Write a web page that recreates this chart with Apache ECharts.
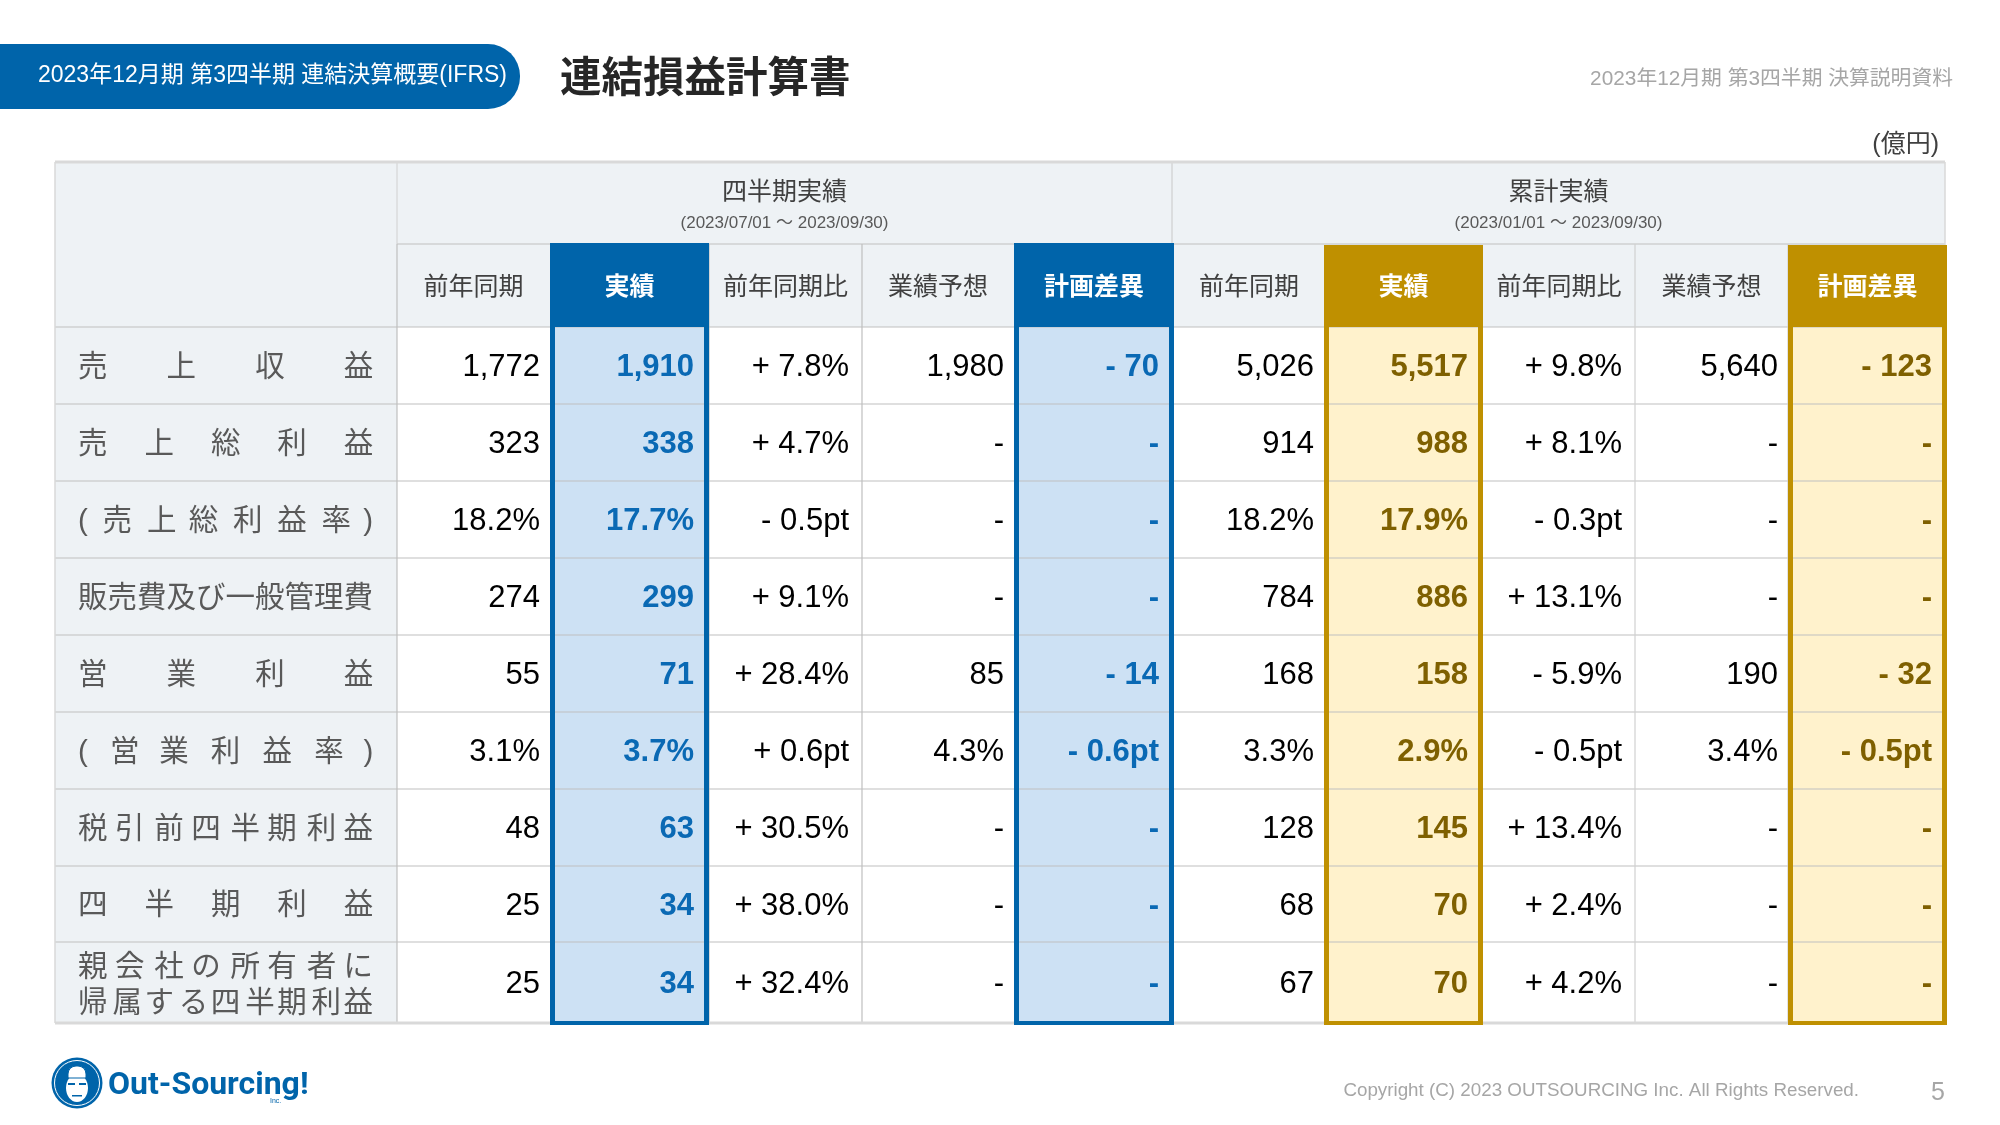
<!DOCTYPE html>
<html>
<head>
<meta charset="utf-8">
<title>連結損益計算書</title>
<script src="https://cdn.jsdelivr.net/npm/echarts@6/dist/echarts.min.js"></script>
<style>
  html, body { margin: 0; padding: 0; background: #fff; }
  #chart { width: 2000px; height: 1125px; }
</style>
</head>
<body>
<div id="chart"></div>
<script>
// Table values, one list per column, as printed on the slide.
const rowLabels = ['売上収益', '売上総利益', '(売上総利益率)', '販売費及び一般管理費', '営業利益', '(営業利益率)', '税引前四半期利益', '四半期利益', '親会社の所有者に\n帰属する四半期利益'];
const groupHeads = ['四半期実績', '累計実績'];
const groupPeriods = ['(2023/07/01 ～ 2023/09/30)', '(2023/01/01 ～ 2023/09/30)'];
const columnHeads = ['前年同期', '実績', '前年同期比', '業績予想', '計画差異'];

const quarterPrev = ['1,772', '323', '18.2%', '274', '55', '3.1%', '48', '25', '25'];
const quarterActual = ['1,910', '338', '17.7%', '299', '71', '3.7%', '63', '34', '34'];
const quarterYoY = ['+ 7.8%', '+ 4.7%', '- 0.5pt', '+ 9.1%', '+ 28.4%', '+ 0.6pt', '+ 30.5%', '+ 38.0%', '+ 32.4%'];
const quarterPlan = ['1,980', '-', '-', '-', '85', '4.3%', '-', '-', '-'];
const quarterDiff = ['- 70', '-', '-', '-', '- 14', '- 0.6pt', '-', '-', '-'];

const totalPrev = ['5,026', '914', '18.2%', '784', '168', '3.3%', '128', '68', '67'];
const totalActual = ['5,517', '988', '17.9%', '886', '158', '2.9%', '145', '70', '70'];
const totalYoY = ['+ 9.8%', '+ 8.1%', '- 0.3pt', '+ 13.1%', '- 5.9%', '- 0.5pt', '+ 13.4%', '+ 2.4%', '+ 4.2%'];
const totalPlan = ['5,640', '-', '-', '-', '190', '3.4%', '-', '-', '-'];
const totalDiff = ['- 123', '-', '-', '-', '- 32', '- 0.5pt', '-', '-', '-'];

const valueColumns = [quarterPrev, quarterActual, quarterYoY, quarterPlan, quarterDiff, totalPrev, totalActual, totalYoY, totalPlan, totalDiff];

// Layout: the axes span the page 1:1, so these are pixel edges of the table grid.
const colEdges = [55, 397, 550, 709, 862, 1014, 1174, 1324, 1483, 1635, 1788, 1947];
const rowEdges = [327, 404, 481, 558, 635, 712, 789, 866, 942, 1023];
const TABLE_TOP = 162, GROUP_BOTTOM = 244, GROUP_SPLIT = 1172, TABLE_RIGHT = 1945;

const BLUE = '#0064aa', GOLD = '#bf9000';
const FONT = '"Liberation Sans", "Noto Sans CJK JP", sans-serif';
const LABEL_SIZE = 29.5, LABEL_LEFT = 78, LABEL_WIDTH = 296;
const HAIR = '\u200a';

// Highlighted columns (index into valueColumns): fill, border and text colours.
const highlights = {
  1: { fill: '#cde1f4', line: BLUE, text: '#0a69b4', top: 243 },
  4: { fill: '#cde1f4', line: BLUE, text: '#0a69b4', top: 243 },
  6: { fill: '#fff2cc', line: GOLD, text: '#7f6000', top: 245 },
  9: { fill: '#fff2cc', line: GOLD, text: '#7f6000', top: 245 },
};

const measureCtx = document.createElement('canvas').getContext('2d');
measureCtx.font = `${LABEL_SIZE}px ${FONT}`;

// Spread the characters over the label width with hair spaces, carrying the rounding
// error along so the last character still lands near the right edge.
function justify(line) {
  const chars = Array.from(line);
  const used = chars.reduce((sum, c) => sum + measureCtx.measureText(c).width, 0);
  const hairW = measureCtx.measureText(HAIR).width || LABEL_SIZE * 0.1;
  const gap = (LABEL_WIDTH - used) / (chars.length - 1) / hairW;
  let out = '', placed = 0;
  chars.forEach((c, i) => {
    out += c;
    if (i === chars.length - 1) return;
    const n = Math.max(0, Math.round(gap * (i + 1)) - placed);
    placed += n;
    out += HAIR.repeat(n);
  });
  return out;
}

// [x0, y0, x1, y1] in axis units → a rectangle shape in pixels.
function box(api, x0, y0, x1, y1) {
  const a = api.coord([x0, y0]);
  const b = api.coord([x1, y1]);
  return { x: a[0], y: a[1], width: b[0] - a[0], height: b[1] - a[1] };
}

function rect(api, edges, fill) {
  return { type: 'rect', shape: box(api, edges[0], edges[1], edges[2], edges[3]), style: { fill } };
}

function line(api, x0, y0, x1, y1, color, width) {
  const a = api.coord([x0, y0]);
  const b = api.coord([x1, y1]);
  return { type: 'line', shape: { x1: a[0], y1: a[1], x2: b[0], y2: b[1] }, style: { stroke: color, lineWidth: width } };
}

function text(api, x, y, str, opts) {
  const p = api.coord([x, y]);
  return {
    type: 'text',
    style: {
      x: p[0], y: p[1], text: str, fill: opts.color,
      font: `${opts.bold ? 'bold ' : ''}${opts.size}px ${FONT}`,
      align: opts.align || 'center', verticalAlign: 'middle',
      lineHeight: opts.lineHeight,
    },
  };
}

// Table body fills and rules, drawn once as a group.
function renderGrid(params, api) {
  const bottom = rowEdges[rowEdges.length - 1];
  const kids = [
    rect(api, [colEdges[0], TABLE_TOP, TABLE_RIGHT, rowEdges[0]], '#eef2f5'),
    rect(api, [colEdges[0], TABLE_TOP, colEdges[1], bottom], '#eef2f5'),
  ];
  Object.keys(highlights).forEach((k) => {
    const col = +k, h = highlights[k];
    kids.push(rect(api, [colEdges[col + 1], rowEdges[0], colEdges[col + 2], bottom], h.fill));
  });
  // row rules run across the highlighted fills
  rowEdges.slice(0, -1).forEach((y) => kids.push(line(api, colEdges[0], y, TABLE_RIGHT, y, '#bfbfbf', 1.2)));
  kids.push(line(api, colEdges[1], GROUP_BOTTOM, TABLE_RIGHT, GROUP_BOTTOM, '#bfbfbf', 1.2));
  kids.push(line(api, colEdges[1], GROUP_BOTTOM, colEdges[1], bottom, '#bfbfbf', 1.2));
  kids.push(line(api, colEdges[1], TABLE_TOP, colEdges[1], GROUP_BOTTOM, '#d0d0d0', 1));
  kids.push(line(api, GROUP_SPLIT, TABLE_TOP, GROUP_SPLIT, GROUP_BOTTOM, '#c8c8c8', 1));
  [3, 4, 9, 10].forEach((i) => {
    kids.push(line(api, colEdges[i], GROUP_BOTTOM, colEdges[i], bottom, i < 5 ? '#bfbfbf' : '#d0d0d0', 1.2));
  });
  // outer frame
  kids.push(line(api, colEdges[0], TABLE_TOP, TABLE_RIGHT, TABLE_TOP, '#d9d9d9', 3));
  kids.push(line(api, colEdges[0], bottom, TABLE_RIGHT, bottom, '#d9d9d9', 3));
  kids.push(line(api, colEdges[0], TABLE_TOP, colEdges[0], bottom, '#d9d9d9', 1.5));
  kids.push(line(api, TABLE_RIGHT, TABLE_TOP, TABLE_RIGHT, rowEdges[0], '#d9d9d9', 1.5));
  // highlighted column heads and borders on top of everything
  Object.keys(highlights).forEach((k) => {
    const col = +k, h = highlights[k];
    const x0 = colEdges[col + 1], x1 = colEdges[col + 2];
    kids.push(rect(api, [x0, h.top, x1, rowEdges[0]], h.line));
    kids.push(rect(api, [x0, rowEdges[0], x0 + 5, bottom + 2], h.line));
    kids.push(rect(api, [x1 - 5, rowEdges[0], x1, bottom + 2], h.line));
    kids.push(rect(api, [x0, bottom - 2, x1, bottom + 2], h.line));
  });
  return { type: 'group', children: kids };
}

// Right padding of a value inside its column, by column kind.
function valuePad(col) {
  if (highlights[col]) return 15;
  return col === 2 || col === 7 ? 13 : 10;
}

function renderCell(params, api) {
  const col = api.value(0), row = api.value(1);
  const h = highlights[col];
  const str = valueColumns[col][row];
  const y = (rowEdges[row] + rowEdges[row + 1]) / 2 + 2;
  return text(api, colEdges[col + 2] - valuePad(col), y, str, {
    size: 31, bold: !!h, color: h ? h.text : '#000', align: 'right',
  });
}

function renderLabel(params, api) {
  const row = api.value(0);
  const str = rowLabels[row].split('\n').map(justify).join('\n');
  const y = (rowEdges[row] + rowEdges[row + 1]) / 2 + (str.includes('\n') ? 3 : 2);
  return text(api, LABEL_LEFT, y, str, { size: LABEL_SIZE, color: '#595959', align: 'left', lineHeight: 36 });
}

function renderHead(params, api) {
  const col = api.value(0);
  const str = columnHeads[col % 5];
  const h = highlights[col];
  const x = (colEdges[col + 1] + colEdges[col + 2]) / 2;
  return text(api, x, (GROUP_BOTTOM + rowEdges[0]) / 2 + 2.5, str, { size: 25, bold: !!h, color: h ? '#fff' : '#404040' });
}

function renderGroup(params, api) {
  const i = api.value(0);
  const x = i === 0 ? (colEdges[1] + GROUP_SPLIT) / 2 : (GROUP_SPLIT + TABLE_RIGHT) / 2;
  return {
    type: 'group',
    children: [
      text(api, x, 193.5, groupHeads[i], { size: 25, color: '#404040' }),
      text(api, x, 223, groupPeriods[i], { size: 17, color: '#595959' }),
    ],
  };
}

const cellData = [];
valueColumns.forEach((values, col) => values.forEach((v, row) => cellData.push([col, row])));

const customBase = { type: 'custom', coordinateSystem: 'cartesian2d', silent: true, clip: false };

// Slide furniture outside the table: badge, titles, footer and logo.
const graphic = [
  { type: 'rect', shape: { x: -40, y: 44, width: 560, height: 65, r: 32 }, style: { fill: BLUE } },
  { type: 'text', style: { x: 38, y: 76, text: '2023年12月期 第3四半期 連結決算概要(IFRS)', fill: '#fff', font: `23px ${FONT}`, verticalAlign: 'middle' } },
  { type: 'text', style: { x: 560, y: 81, text: '連結損益計算書', fill: '#262626', font: `bold 41.5px ${FONT}`, verticalAlign: 'middle' } },
  { type: 'text', style: { x: 1953, y: 79, text: '2023年12月期 第3四半期 決算説明資料', fill: '#a6a6a6', font: `20.8px ${FONT}`, align: 'right', verticalAlign: 'middle' } },
  { type: 'text', style: { x: 1939, y: 145, text: '(億円)', fill: '#404040', font: `25px ${FONT}`, align: 'right', verticalAlign: 'middle' } },
  { type: 'text', style: { x: 1859, y: 1091, text: 'Copyright (C) 2023 OUTSOURCING Inc. All Rights Reserved.', fill: '#a6a6a6', font: `18.8px ${FONT}`, align: 'right', verticalAlign: 'middle' } },
  { type: 'text', style: { x: 1945, y: 1093, text: '5', fill: '#a6a6a6', font: `25px ${FONT}`, align: 'right', verticalAlign: 'middle' } },
  // logo: round badge with a capped face
  { type: 'circle', shape: { cx: 77, cy: 1083, r: 25.5 }, style: { fill: BLUE } },
  { type: 'circle', shape: { cx: 77, cy: 1083, r: 22.5 }, style: { fill: 'none', stroke: '#fff', lineWidth: 1 } },
  { type: 'ellipse', shape: { cx: 77, cy: 1088, rx: 11, ry: 14 }, style: { fill: '#fff' } },
  { type: 'rect', shape: { x: 68, y: 1066, width: 18, height: 12, r: [8, 8, 1, 1] }, style: { fill: '#fff', stroke: BLUE, lineWidth: 1 } },
  { type: 'rect', shape: { x: 68, y: 1083, width: 7, height: 2 }, style: { fill: BLUE } },
  { type: 'rect', shape: { x: 79, y: 1083, width: 7, height: 2 }, style: { fill: BLUE } },
  { type: 'rect', shape: { x: 72, y: 1095, width: 10, height: 1.5 }, style: { fill: BLUE } },
  { type: 'text', style: { x: 108, y: 1086, text: 'Out-Sourcing!', fill: BLUE, font: 'bold 32px Roboto, sans-serif', verticalAlign: 'middle' } },
  { type: 'text', style: { x: 270, y: 1101, text: 'Inc.', fill: BLUE, font: `7px ${FONT}`, verticalAlign: 'middle' } },
];

const chart = echarts.init(document.getElementById('chart'), null, { renderer: 'canvas' });
chart.setOption({
  animation: false,
  backgroundColor: '#fff',
  grid: { left: 0, right: 0, top: 0, bottom: 0 },
  xAxis: { type: 'value', min: 0, max: 2000, show: false },
  yAxis: { type: 'value', min: 0, max: 1125, inverse: true, show: false },
  graphic,
  series: [
    { ...customBase, name: 'grid', z: 1, renderItem: renderGrid, data: [[0]] },
    { ...customBase, name: 'groups', z: 3, renderItem: renderGroup, data: groupHeads.map((g, i) => [i]) },
    { ...customBase, name: 'heads', z: 3, renderItem: renderHead, data: valueColumns.map((c, i) => [i]) },
    { ...customBase, name: 'labels', z: 3, renderItem: renderLabel, data: rowLabels.map((l, i) => [i]) },
    { ...customBase, name: 'cells', z: 3, renderItem: renderCell, data: cellData },
  ],
});
</script>
</body>
</html>
